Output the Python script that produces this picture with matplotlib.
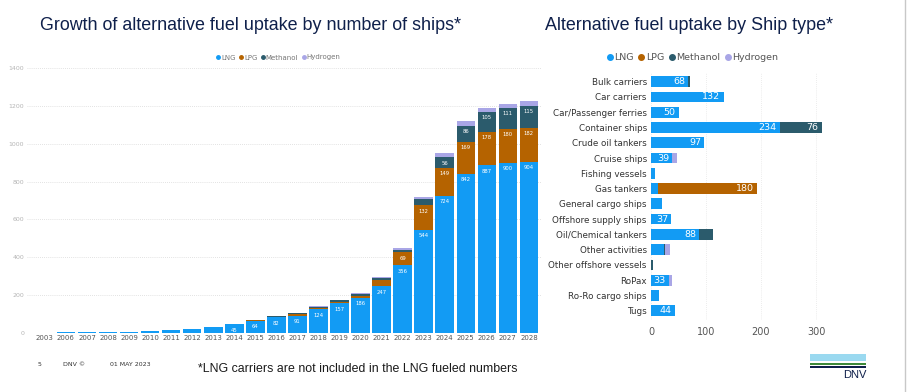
import matplotlib
matplotlib.use("Agg")
import matplotlib.pyplot as plt
import numpy as np
from matplotlib.lines import Line2D
from matplotlib.patches import Rectangle

# ==========================================================
# DATA
# ==========================================================
years = ["2003", "2006", "2007", "2008", "2009", "2010", "2011", "2012",
         "2013", "2014", "2015", "2016", "2017", "2018", "2019", "2020",
         "2021", "2022", "2023", "2024", "2025", "2026", "2027", "2028"]
lng_year = [1, 2, 4, 5, 6, 9, 12, 22, 32, 45, 64, 82, 91, 124, 157, 186,
            247, 356, 544, 724, 842, 887, 900, 904]
lpg_year = [0, 0, 0, 0, 0, 0, 0, 0, 0, 0, 1, 3, 8, 7, 8, 10,
            30, 69, 132, 149, 169, 178, 180, 182]
meth_year = [0, 0, 0, 0, 0, 0, 0, 0, 0, 0, 3, 5, 5, 6, 8, 8,
             12, 15, 30, 56, 86, 105, 111, 115]
h2_year = [0, 0, 0, 0, 0, 0, 0, 0, 0, 0, 0, 1, 2, 2, 2, 4,
           4, 8, 14, 20, 22, 22, 22, 24]

ship_types = ["Bulk carriers", "Car carriers", "Car/Passenger ferries",
              "Container ships", "Crude oil tankers", "Cruise ships",
              "Fishing vessels", "Gas tankers", "General cargo ships",
              "Offshore supply ships", "Oil/Chemical tankers",
              "Other activities", "Other offshore vessels", "RoPax",
              "Ro-Ro cargo ships", "Tugs"]
lng_ship = [68, 132, 50, 234, 97, 39, 7, 13, 20, 37, 88, 24, 0, 33, 14, 44]
lpg_ship = [0, 0, 0, 0, 0, 0, 0, 180, 0, 0, 0, 0, 0, 0, 0, 0]
meth_ship = [2, 0, 0, 76, 0, 0, 0, 0, 0, 0, 25, 2, 4, 0, 0, 0]
h2_ship = [0, 0, 0, 0, 0, 8, 0, 0, 0, 0, 0, 8, 0, 5, 0, 0]

fuels = ["LNG", "LPG", "Methanol", "Hydrogen"]
colors = ["#129BF4", "#B56300", "#2B5B6C", "#A9A6E6"]

W, H = 907, 392
NAVY = "#0F204B"


def fx(px):
    return px / W


def fy(py):
    return 1 - py / H


fig = plt.figure(figsize=(W / 100, H / 100), dpi=100)
fig.patch.set_facecolor("white")

# ==========================================================
# LEFT: growth by year
# ==========================================================
ax1 = fig.add_axes([fx(27), fy(332.7), fx(540.5) - fx(27), fy(68.3) - fy(332.7)])
x = np.arange(len(years))
bottom = np.zeros(len(years))
for series, c in zip([lng_year, lpg_year, meth_year, h2_year], colors):
    vals = np.array(series, dtype=float)
    ax1.bar(x, vals, width=0.88, bottom=bottom, color=c, linewidth=0, zorder=2)
    if c != colors[3]:
        for xi, v, b in zip(x, vals, bottom):
            if v >= 40:
                ax1.annotate(f"{int(v)}", (xi, b + v), xytext=(0, -2.5),
                             textcoords="offset points", ha="center", va="top",
                             fontsize=3.8, color="white")
    bottom += vals

ax1.set_xlim(-0.85, 23.55)
ax1.set_ylim(0, 1400)
ax1.set_yticks(range(0, 1401, 200))
ax1.set_xticks(x)
ax1.set_xticklabels(years)
ax1.tick_params(axis="x", length=0, pad=1.5, labelsize=5, labelcolor="#555555")
ax1.tick_params(axis="y", length=0, pad=2, labelsize=4.5, labelcolor="#b5b5b5")
ax1.grid(axis="y", linestyle=(0, (1, 1.5)), color="#d9d9d9", linewidth=0.6, zorder=0)
for s in ax1.spines.values():
    s.set_visible(False)

h1 = [Line2D([], [], marker="o", linestyle="", color=c, markersize=2.5) for c in colors]
fig.legend(h1, fuels, loc="center", bbox_to_anchor=(fx(278), fy(57.5)), ncol=4,
           frameon=False, fontsize=5, handletextpad=0.0, columnspacing=0.4,
           handlelength=0.8, labelcolor="#777777")

# ==========================================================
# RIGHT: by ship type
# ==========================================================
ax2 = fig.add_axes([fx(651), fy(319.9), fx(832.5) - fx(651), fy(72.5) - fy(319.9)])
y = np.arange(len(ship_types))
left = np.zeros(len(ship_types))
for series, c in zip([lng_ship, lpg_ship, meth_ship, h2_ship], colors):
    vals = np.array(series, dtype=float)
    ax2.barh(y, vals, height=0.7, left=left, color=c, linewidth=0, zorder=2)
    for yi, v, l in zip(y, vals, left):
        if v >= 30:
            ax2.annotate(f"{int(v)}", (l + v, yi), xytext=(-2.5, 0),
                         textcoords="offset points", ha="right", va="center",
                         fontsize=6.8, color="white")
    left += vals

ax2.set_xlim(0, 330)
ax2.set_ylim(len(ship_types) - 0.4, -0.6)
ax2.set_yticks(y)
ax2.set_yticklabels(ship_types)
ax2.set_xticks([0, 100, 200, 300])
ax2.tick_params(axis="y", length=0, pad=3, labelsize=6.3, labelcolor="#333333")
ax2.tick_params(axis="x", length=0, pad=5, labelsize=7, labelcolor="#555555")
ax2.grid(axis="x", linestyle=(0, (1, 1.5)), color="#e6e6e6", linewidth=0.6, zorder=0)
for s in ax2.spines.values():
    s.set_visible(False)

h2 = [Line2D([], [], marker="o", linestyle="", color=c, markersize=4) for c in colors]
fig.legend(h2, fuels, loc="center", bbox_to_anchor=(fx(692), fy(57.5)), ncol=4,
           frameon=False, fontsize=6.8, handletextpad=0.0, columnspacing=0.4,
           handlelength=0.9, labelcolor="#555555")

# ==========================================================
# TITLES, FOOTER, LOGO
# ==========================================================
title_font = ["Liberation Sans Narrow", "Liberation Sans", "DejaVu Sans"]
fig.text(fx(40), fy(25), "Growth of alternative fuel uptake by number of ships*",
         fontsize=12.9, color=NAVY, va="center", ha="left", family=title_font)
fig.text(fx(545), fy(25), "Alternative fuel uptake by Ship type*",
         fontsize=12.9, color=NAVY, va="center", ha="left", family=title_font)
fig.text(fx(198), fy(369), "*LNG carriers are not included in the LNG fueled numbers",
         fontsize=8.9, color="#1a1a1a", va="center", ha="left", family=title_font)

fig.text(fx(38), fy(364), "5", fontsize=4.5, color="#333333", va="center")
fig.text(fx(63), fy(364), "DNV ©", fontsize=4.5, color="#333333", va="center")
fig.text(fx(110), fy(364), "01 MAY 2023", fontsize=4.5, color="#333333", va="center")

# DNV logo bands
for (y0, y1, c) in [(354.3, 360.7, "#9AD9F0"), (363, 364.7, "#3E8A3A"), (366, 367.7, "#0F204B")]:
    fig.patches.append(Rectangle((fx(810), fy(y1)), fx(866) - fx(810), fy(y0) - fy(y1),
                                 transform=fig.transFigure, color=c, linewidth=0))
fig.text(fx(867), fy(375.5), "DNV", fontsize=8, color=NAVY, ha="right", va="center",
         family=["Liberation Sans", "DejaVu Sans"])

# right border line
fig.add_artist(Line2D([fx(905), fx(905)], [0, 1], transform=fig.transFigure,
                      color="#c8c8c8", linewidth=1))

fig.savefig("out.png", dpi=100, facecolor="white")
